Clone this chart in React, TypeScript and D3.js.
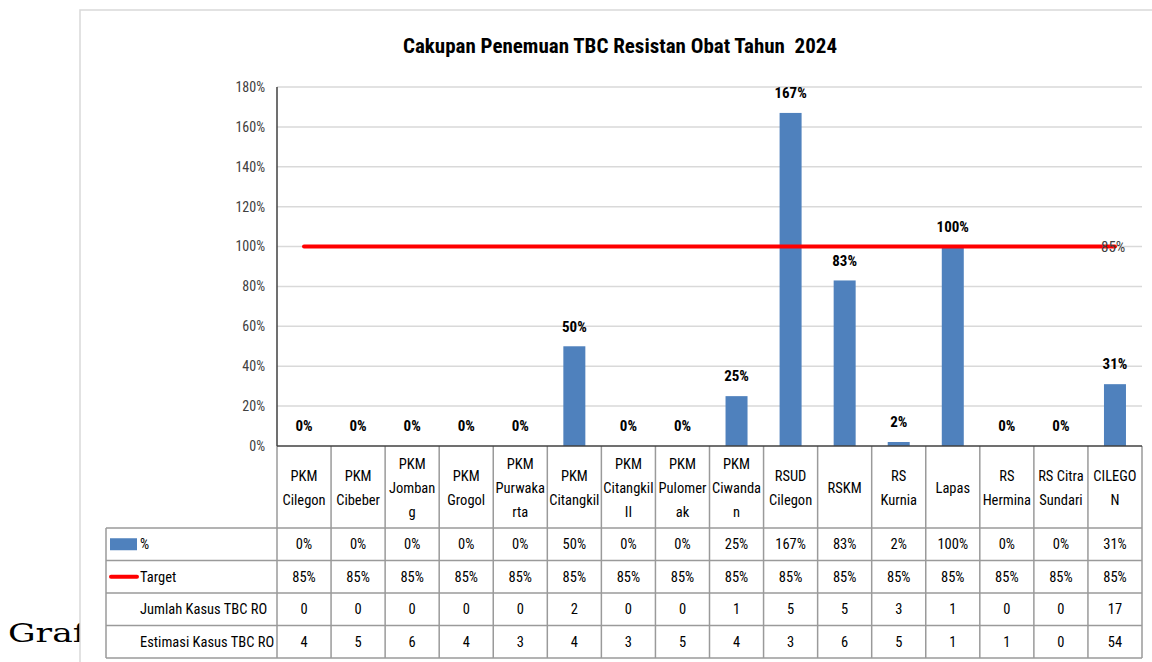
import React from "react";
import * as d3 from "d3";

const categories = [
  "PKM Cilegon", "PKM Cibeber", "PKM Jombang", "PKM Grogol", "PKM Purwakarta",
  "PKM Citangkil", "PKM Citangkil II", "PKM Pulomerak", "PKM Ciwandan", "RSUD Cilegon",
  "RSKM", "RS Kurnia", "Lapas", "RS Hermina", "RS Citra Sundari", "CILEGON",
];
const categoryLines = [
  ["PKM", "Cilegon"], ["PKM", "Cibeber"], ["PKM", "Jomban", "g"], ["PKM", "Grogol"],
  ["PKM", "Purwaka", "rta"], ["PKM", "Citangkil"], ["PKM", "Citangkil", "II"],
  ["PKM", "Pulomer", "ak"], ["PKM", "Ciwanda", "n"], ["RSUD", "Cilegon"], ["RSKM"],
  ["RS", "Kurnia"], ["Lapas"], ["RS", "Hermina"], ["RS Citra", "Sundari"], ["CILEGO", "N"],
];
const percentValues = [0, 0, 0, 0, 0, 0.5, 0, 0, 0.25, 1.67, 0.83, 0.02, 1.0, 0, 0, 0.31];
const targetValues = [0.85, 0.85, 0.85, 0.85, 0.85, 0.85, 0.85, 0.85, 0.85, 0.85, 0.85, 0.85, 0.85, 0.85, 0.85, 0.85];
const jumlahKasus = [0, 0, 0, 0, 0, 2, 0, 0, 1, 5, 5, 3, 1, 0, 0, 17];
const estimasiKasus = [4, 5, 6, 4, 3, 4, 3, 5, 4, 3, 6, 5, 1, 1, 0, 54];
const yTicks = [0, 0.2, 0.4, 0.6, 0.8, 1.0, 1.2, 1.4, 1.6, 1.8];
const rowLabels = ["%", "Target", "Jumlah Kasus TBC RO", "Estimasi Kasus TBC RO"];

const title = "Cakupan Penemuan TBC Resistan Obat Tahun  2024";
const FONT = "'Roboto Condensed', Roboto, sans-serif";

export default function App() {
  const plotLeft = 277, plotRight = 1142, plotTop = 87, plotBottom = 446;
  const tableLeft = 106;
  const headerBottom = 528;
  const rowH = 32.5;

  const x = d3.scaleBand<string>().domain(categories).range([plotLeft, plotRight]).padding(0);
  const y = d3.scaleLinear().domain([0, 1.8]).range([plotBottom, plotTop]);
  // target series drawn on a hidden secondary axis
  const y2 = d3.scaleLinear().domain([0, 1.53]).range([plotBottom, plotTop]);
  const barW = 22;
  const fmt = d3.format(".0%");

  const line = d3.line<number>()
    .x((_, i) => (x(categories[i]) as number) + x.bandwidth() / 2)
    .y((d) => y2(d));

  const rows = [
    { label: rowLabels[0], values: percentValues.map(fmt), key: "bar" },
    { label: rowLabels[1], values: targetValues.map(fmt), key: "line" },
    { label: rowLabels[2], values: jumlahKasus.map(String), key: "none" },
    { label: rowLabels[3], values: estimasiKasus.map(String), key: "none" },
  ];
  const tableBottom = headerBottom + rowH * rows.length;
  const gridColor = "#9a9a9a";

  return (
    <svg width={1152} height={662} style={{ position: "absolute", left: 0, top: 0 }} fontFamily={FONT}>
      <rect width={1152} height={662} fill="#fff" />
      <text x={8} y={642} fontFamily="'DejaVu Serif', serif" fontSize={26} fill="#000"
        transform="translate(8,0) scale(1.33,1) translate(-8,0)">Grafik</text>
      <rect x={80} y={10} width={1100} height={700} fill="#fff" stroke="#d9d9d9" strokeWidth={1.5} />

      <text x={620} y={53} textAnchor="middle" fontSize={21} fontWeight="bold" fill="#000"
        style={{ whiteSpace: "pre" }}>{title}</text>

      {/* gridlines */}
      {yTicks.map((t) => (
        <g key={t}>
          {t > 0 && <line x1={plotLeft} x2={plotRight} y1={y(t)} y2={y(t)} stroke="#d9d9d9" strokeWidth={1.5} />}
          <text x={265} y={y(t)} dy="0.35em" textAnchor="end" fontSize={14} fill="#404040">{fmt(t)}</text>
        </g>
      ))}

      {/* bars */}
      {categories.map((c, i) => {
        const cx = (x(c) as number) + x.bandwidth() / 2;
        const v = percentValues[i];
        return (
          <g key={c}>
            {v > 0 && <rect x={cx - barW / 2} y={y(v)} width={barW} height={plotBottom - y(v)} fill="#4f81bd" />}
            <text x={cx} y={y(v) - 20} dy="0.35em" textAnchor="middle" fontSize={15} fontWeight="bold" fill="#000">{fmt(v)}</text>
          </g>
        );
      })}

      {/* target line */}
      <path d={line(targetValues) as string} fill="none" stroke="#ff0000" strokeWidth={4} strokeLinecap="round" />
      <text x={1101} y={y2(targetValues[targetValues.length - 1])} dy="0.35em" fontSize={15} fill="#404040">
        {fmt(targetValues[targetValues.length - 1])}
      </text>

      {/* table */}
      {categories.map((c, i) => {
        const cx = (x(c) as number) + x.bandwidth() / 2;
        const lines = categoryLines[i];
        const lh = 24;
        const mid = (plotBottom + headerBottom) / 2 + 1;
        return (
          <g key={"h" + c}>
            {lines.map((l, j) => (
              <text key={j} x={cx} y={mid + (j - (lines.length - 1) / 2) * lh} dy="0.35em"
                textAnchor="middle" fontSize={14.5} fill="#000">{l}</text>
            ))}
            {rows.map((r, k) => (
              <text key={k} x={cx} y={headerBottom + rowH * k + rowH / 2} dy="0.35em"
                textAnchor="middle" fontSize={14.5} fill="#000">{r.values[i]}</text>
            ))}
          </g>
        );
      })}
      {rows.map((r, k) => {
        const cy = headerBottom + rowH * k + rowH / 2;
        return (
          <g key={"r" + k}>
            {r.key === "bar" && <rect x={110} y={cy - 6} width={27} height={12} fill="#4f81bd" />}
            {r.key === "line" && <line x1={111} x2={137} y1={cy} y2={cy} stroke="#ff0000" strokeWidth={4} strokeLinecap="round" />}
            <text x={140} y={cy} dy="0.35em" fontSize={14.5} fill="#000">{r.label}</text>
          </g>
        );
      })}
      {/* table grid */}
      {d3.range(rows.length + 1).map((k) => (
        <line key={"hl" + k} x1={tableLeft} x2={plotRight} y1={headerBottom + rowH * k} y2={headerBottom + rowH * k}
          stroke={gridColor} strokeWidth={1.5} />
      ))}
      {categories.map((c) => (
        <line key={"vl" + c} x1={x(c) as number} x2={x(c) as number} y1={plotBottom} y2={tableBottom}
          stroke={gridColor} strokeWidth={1.5} />
      ))}
      <line x1={plotRight} x2={plotRight} y1={plotBottom} y2={tableBottom} stroke={gridColor} strokeWidth={1.5} />
      <line x1={tableLeft} x2={tableLeft} y1={headerBottom} y2={tableBottom} stroke={gridColor} strokeWidth={1.5} />

      {/* axes */}
      <line x1={plotLeft} x2={plotLeft} y1={plotTop} y2={plotBottom} stroke="#404040" strokeWidth={1.5} />
      <line x1={plotLeft} x2={plotRight} y1={plotBottom} y2={plotBottom} stroke="#404040" strokeWidth={1.5} />
    </svg>
  );
}
